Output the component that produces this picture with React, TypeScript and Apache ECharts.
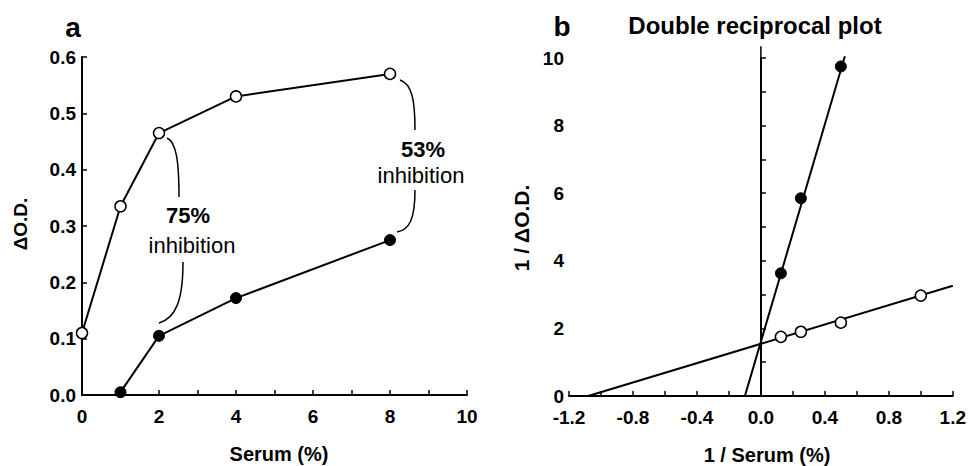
import React, { useEffect, useRef } from "react";
import * as echarts from "echarts";

// Panel a: ΔO.D. vs Serum (%)
const serumOpen: number[] = [0, 1, 2, 4, 8];
const odOpen: number[] = [0.11, 0.335, 0.465, 0.53, 0.57];
const serumFilled: number[] = [1, 2, 4, 8];
const odFilled: number[] = [0.005, 0.105, 0.172, 0.275];

// Panel b: double reciprocal plot
const invSerumOpen: number[] = [0.125, 0.25, 0.5, 1.0];
const invOdOpen: number[] = [1.75, 1.9, 2.17, 2.97];
const invSerumFilled: number[] = [0.125, 0.25, 0.5];
const invOdFilled: number[] = [3.63, 5.85, 9.75];
// fitted lines (end points)
const fitOpenX: number[] = [-1.08, 1.2];
const fitOpenY: number[] = [0, 3.26];
const fitFilledX: number[] = [-0.1, 0.525];
const fitFilledY: number[] = [0, 10.05];
const zeroLineX: number[] = [0, 0];
const zeroLineY: number[] = [0, 10.35];

const FONT = "'Liberation Sans', Arial, Helvetica, sans-serif";
const BLACK = "#000";

const zip = (a: number[], b: number[]) => a.map((v, i) => [v, b[i]]);

export default function App() {
  const ref = useRef<HTMLDivElement>(null);
  useEffect(() => {
    if (!ref.current) return;
    const chart = echarts.init(ref.current, null, { renderer: "svg" });

    const axisCommon = {
      type: "value" as const,
      axisLine: { show: true, lineStyle: { color: BLACK, width: 2 } },
      axisTick: { show: true, inside: true, length: 5, lineStyle: { color: BLACK, width: 1.5 } },
      splitLine: { show: false },
    };
    const labelCommon = {
      color: BLACK,
      fontFamily: FONT,
      fontWeight: "bold" as const,
      fontSize: 19,
    };

    const openItem = { color: "#fff", borderColor: BLACK, borderWidth: 1.5, opacity: 1 };
    const filledItem = { color: BLACK, borderColor: BLACK, borderWidth: 1, opacity: 1 };
    const lineStyle = { color: BLACK, width: 2 };

    const bez = (x1: number, y1: number, cx1: number, cy1: number, cx2: number, cy2: number, x2: number, y2: number) => ({
      type: "bezierCurve",
      shape: { x1, y1, cpx1: cx1, cpy1: cy1, cpx2: cx2, cpy2: cy2, x2, y2 },
      style: { stroke: BLACK, lineWidth: 1.5, fill: "none" },
      z: 10,
    });
    const txt = (x: number, y: number, text: string, size: number, weight: string, rotation = 0) => ({
      type: "text",
      x,
      y,
      rotation,
      style: {
        text,
        fill: BLACK,
        font: `${weight} ${size}px ${FONT}`,
        textAlign: "center",
        textVerticalAlign: "middle",
      },
      z: 10,
    });

    chart.setOption({
      animation: false,
      backgroundColor: "#fff",
      grid: [
        { left: 82, top: 57, width: 385, height: 338 },
        { left: 569, top: 58, width: 386, height: 338 },
      ],
      xAxis: [
        {
          ...axisCommon,
          gridIndex: 0,
          min: 0,
          max: 10,
          interval: 1,
          axisLabel: {
            ...labelCommon,
            margin: 12,
            formatter: (v: number) => (Math.round(v) % 2 === 0 ? String(Math.round(v)) : ""),
          },
        },
        {
          ...axisCommon,
          gridIndex: 1,
          min: -1.2,
          max: 1.2,
          interval: 0.2,
          axisLabel: {
            ...labelCommon,
            margin: 12,
            formatter: (v: number) => {
              const k = Math.round(v * 10);
              return k % 4 === 0 ? (k / 10).toFixed(1) : "";
            },
          },
        },
      ],
      yAxis: [
        {
          ...axisCommon,
          gridIndex: 0,
          min: 0,
          max: 0.6,
          interval: 0.1,
          axisLabel: { ...labelCommon, margin: 6, formatter: (v: number) => v.toFixed(1) },
        },
        {
          ...axisCommon,
          gridIndex: 1,
          min: 0,
          max: 10,
          interval: 1,
          axisLabel: {
            ...labelCommon,
            margin: 5,
            formatter: (v: number) => (Math.round(v) % 2 === 0 ? String(Math.round(v)) : ""),
          },
        },
      ],
      series: [
        {
          type: "line",
          xAxisIndex: 0,
          yAxisIndex: 0,
          data: zip(serumOpen, odOpen),
          symbol: "circle",
          symbolSize: 11,
          itemStyle: openItem,
          lineStyle,
          clip: false,
          z: 3,
        },
        {
          type: "line",
          xAxisIndex: 0,
          yAxisIndex: 0,
          data: zip(serumFilled, odFilled),
          symbol: "circle",
          symbolSize: 11,
          itemStyle: filledItem,
          lineStyle,
          clip: false,
          z: 3,
        },
        {
          type: "line",
          xAxisIndex: 1,
          yAxisIndex: 1,
          data: zip(zeroLineX, zeroLineY),
          symbol: "none",
          lineStyle: { color: BLACK, width: 1.5 },
          clip: false,
          z: 2,
        },
        {
          type: "line",
          xAxisIndex: 1,
          yAxisIndex: 1,
          data: zip(fitOpenX, fitOpenY),
          symbol: "none",
          lineStyle,
          clip: false,
          z: 2,
        },
        {
          type: "line",
          xAxisIndex: 1,
          yAxisIndex: 1,
          data: zip(fitFilledX, fitFilledY),
          symbol: "none",
          lineStyle,
          clip: false,
          z: 2,
        },
        {
          type: "scatter",
          xAxisIndex: 1,
          yAxisIndex: 1,
          data: zip(invSerumOpen, invOdOpen),
          symbol: "circle",
          symbolSize: 11,
          itemStyle: openItem,
          clip: false,
          z: 4,
        },
        {
          type: "scatter",
          xAxisIndex: 1,
          yAxisIndex: 1,
          data: zip(invSerumFilled, invOdFilled),
          symbol: "circle",
          symbolSize: 11,
          itemStyle: filledItem,
          clip: false,
          z: 4,
        },
      ],
      graphic: [
        txt(73, 27, "a", 28, "bold"),
        txt(562, 26, "b", 28, "bold"),
        txt(755, 25, "Double reciprocal plot", 24, "bold"),
        txt(279, 454, "Serum (%)", 20, "bold"),
        txt(767, 455, "1 / Serum (%)", 20, "bold"),
        txt(20, 224, "ΔO.D.", 19, "bold", Math.PI / 2),
        txt(521, 228, "1 / ΔO.D.", 21, "bold", Math.PI / 2),
        txt(188, 215, "75%", 22, "bold"),
        txt(192, 245, "inhibition", 22, "normal"),
        txt(423, 149, "53%", 22, "bold"),
        txt(421, 175, "inhibition", 22, "normal"),
        bez(167, 138, 176, 142, 179, 160, 179, 197),
        bez(183, 262, 183, 300, 176, 318, 159, 323),
        bez(400, 80, 412, 84, 415, 100, 415, 130),
        bez(415, 190, 415, 220, 409, 230, 397, 232),
      ],
    });
    return () => chart.dispose();
  }, []);
  return (
    <div
      ref={ref}
      style={{ position: "fixed", left: 0, top: 0, width: 969, height: 466, background: "#fff" }}
    />
  );
}
